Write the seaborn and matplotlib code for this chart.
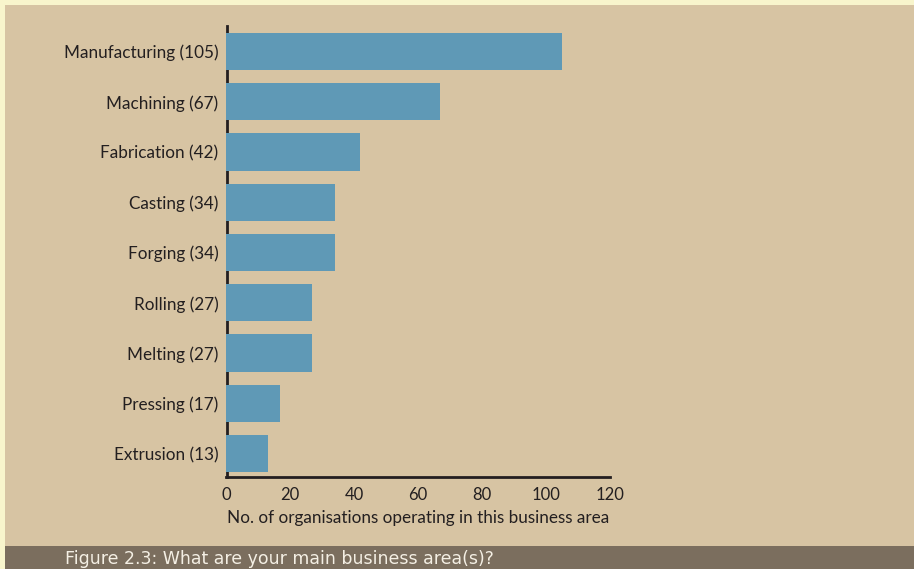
import matplotlib
matplotlib.use("Agg")
import matplotlib.pyplot as plt
import seaborn as sns
import pandas as pd
from matplotlib.patches import Rectangle

categories = ["Manufacturing", "Machining", "Fabrication", "Casting", "Forging",
              "Rolling", "Melting", "Pressing", "Extrusion"]
counts = [105, 67, 42, 34, 34, 27, 27, 17, 13]
x_ticks = [0, 20, 40, 60, 80, 100, 120]

labels = [f"{c} ({n})" for c, n in zip(categories, counts)]
df = pd.DataFrame({"area": labels, "count": counts})

sns.set_theme(style="white")
plt.rcParams["font.family"] = ["Lato", "DejaVu Sans"]

BG = "#d7c4a3"
BORDER = "#f8f5cc"
BAND = "#7b6e5e"
BAR = "#5f99b6"
INK = "#231f20"

fig = plt.figure(figsize=(9.14, 5.69), dpi=100)
fig.patch.set_facecolor(BORDER)
# tan panel and caption band
fig.patches.append(Rectangle((5 / 914, 23 / 569), 909 / 914, 541 / 569,
                             transform=fig.transFigure, facecolor=BG, edgecolor="none", zorder=-2))
fig.patches.append(Rectangle((5 / 914, 0), 909 / 914, 23 / 569,
                             transform=fig.transFigure, facecolor=BAND, edgecolor="none", zorder=-2))
fig.text(65 / 914, 10 / 569, "Figure 2.3: What are your main business area(s)?",
         color="#f4efe4", fontsize=12.5, va="center", ha="left", family="DejaVu Sans")

ax = fig.add_axes([226 / 914, 1 - 477 / 569, (610 - 226) / 914, (477 - 26) / 569])
ax.set_zorder(2)
ax.set_facecolor("none")
sns.barplot(data=df, y="area", x="count", orient="h", color=BAR, width=0.74,
            saturation=1, linewidth=0, edgecolor="none", ax=ax, zorder=3)

ax.set_xlim(0, 120)
ax.set_ylim(8.47, -0.51)
ax.set_xticks(x_ticks)
ax.set_xticklabels([str(t) for t in x_ticks], color=INK, fontsize=12)
ax.tick_params(axis="x", direction="in", length=7, width=2, color=INK, pad=7)
ax.tick_params(axis="y", length=0, pad=6.5, labelsize=12.3, labelcolor=INK)
ax.set_ylabel("")
ax.set_xlabel("No. of organisations operating in this business area", fontsize=12.3,
              color=INK, labelpad=5)

for side in ["top", "right"]:
    ax.spines[side].set_visible(False)
for side in ["left", "bottom"]:
    ax.spines[side].set_color(INK)
    ax.spines[side].set_linewidth(2)
    ax.spines[side].set_zorder(1)
# tuck the left spine just behind the bars' base
ax.spines["left"].set_position(("outward", -1))

fig.savefig("out.png", dpi=100, facecolor=fig.get_facecolor())
